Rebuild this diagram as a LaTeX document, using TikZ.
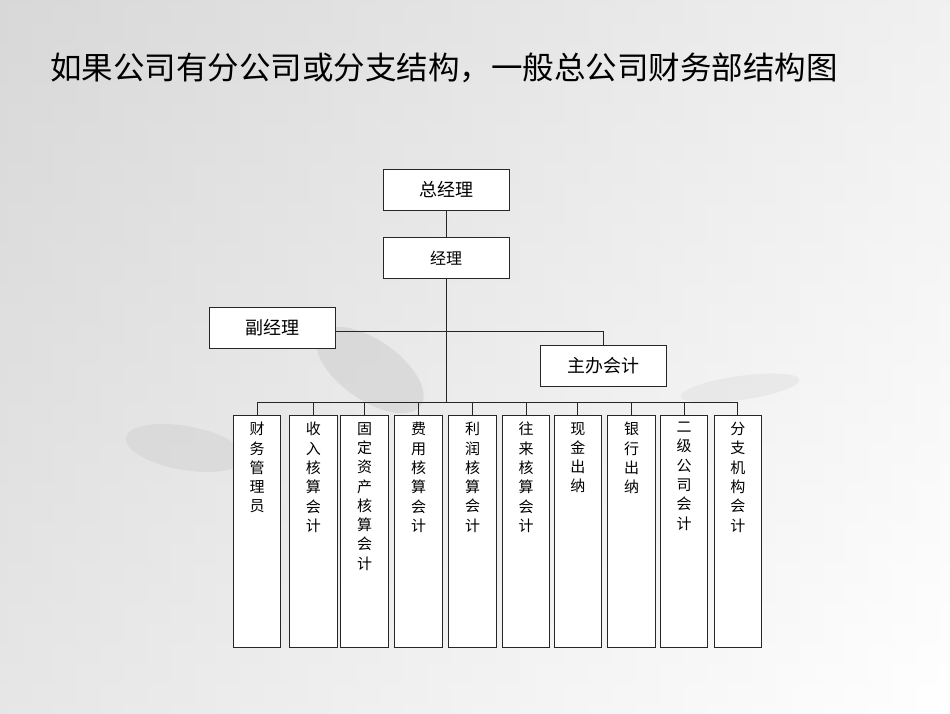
\documentclass[tikz,border=0pt]{standalone}
\usepackage{fontspec}
\setmainfont{Noto Sans CJK SC}

\begin{document}
\begin{tikzpicture}[x=1pt,y=-1pt,
  box/.style={draw=black!85,line width=1pt,fill=white,rectangle,inner sep=0pt},
  head/.style={box,minimum width=126pt,minimum height=41pt,font=\fontsize{18}{20}\selectfont},
  col/.style={box,minimum width=47.5pt,minimum height=232pt,anchor=north},
  coltext/.style={anchor=north,align=center,inner sep=0pt,yshift=-7pt,font=\fontsize{15}{19.3}\selectfont},
  link/.style={draw=black!85,line width=1pt}]
  % background
  \useasboundingbox (0,0) rectangle (950,713);
  \shade[top color=black!14,bottom color=white] (0,0) rectangle (950,713);
  \shade[left color=black!16,right color=white,opacity=0.6] (0,0) rectangle (950,713);
  \fill[black!20,opacity=0.5,rotate around={-35:(370,370)}] (370,370) ellipse (62pt and 30pt);
  \fill[black!18,opacity=0.5,rotate around={-10:(185,448)}] (185,448) ellipse (60pt and 22pt);
  \fill[black!12,opacity=0.5,rotate around={8:(740,388)}] (740,388) ellipse (60pt and 12pt);
  % title
  \node[anchor=west,inner sep=0pt,font=\fontsize{31.5}{34}\selectfont] (title) at (50,68) {如果公司有分公司或分支结构，一般总公司财务部结构图};
  % upper boxes
  \node[head] (gm) at (446,189.5) {总经理};
  \node[head,font=\fontsize{16}{18}\selectfont] (mgr) at (446,257.8) {经理};
  \node[head] (vgm) at (272.5,327.5) {副经理};
  \node[head] (chief) at (603.5,365.5) {主办会计};
  \coordinate (jct) at (446,331.7);
  \coordinate (bus) at (446,402.7);
  % columns
  \node[col,label={[coltext]north:财\\务\\管\\理\\员}] (c1) at (257,415) {};
  \node[col,label={[coltext]north:收\\入\\核\\算\\会\\计}] (c2) at (313.3,415) {};
  \node[col,label={[coltext]north:固\\定\\资\\产\\核\\算\\会\\计}] (c3) at (364.7,415) {};
  \node[col,label={[coltext]north:费\\用\\核\\算\\会\\计}] (c4) at (418.5,415) {};
  \node[col,label={[coltext]north:利\\润\\核\\算\\会\\计}] (c5) at (472.5,415) {};
  \node[col,label={[coltext]north:往\\来\\核\\算\\会\\计}] (c6) at (526.2,415) {};
  \node[col,label={[coltext]north:现\\金\\出\\纳}] (c7) at (577.8,415) {};
  \node[col,label={[coltext]north:银\\行\\出\\纳}] (c8) at (631.7,415) {};
  \node[col,label={[coltext]north:二\\级\\公\\司\\会\\计}] (c9) at (684.2,415) {};
  \node[col,label={[coltext]north:分\\支\\机\\构\\会\\计}] (c10) at (737.8,415) {};
  % connectors
  \draw[link] (gm) -- (mgr);
  \draw[link] (mgr) -- (bus);
  \draw[link] (vgm.east |- jct) -- (jct -| chief.north) -- (chief.north);
  \draw[link] (c1.north |- bus) -- (c10.north |- bus);
  \foreach \i in {1,...,10}
    \draw[link] (c\i.north |- bus) -- (c\i.north);
\end{tikzpicture}
\end{document}
